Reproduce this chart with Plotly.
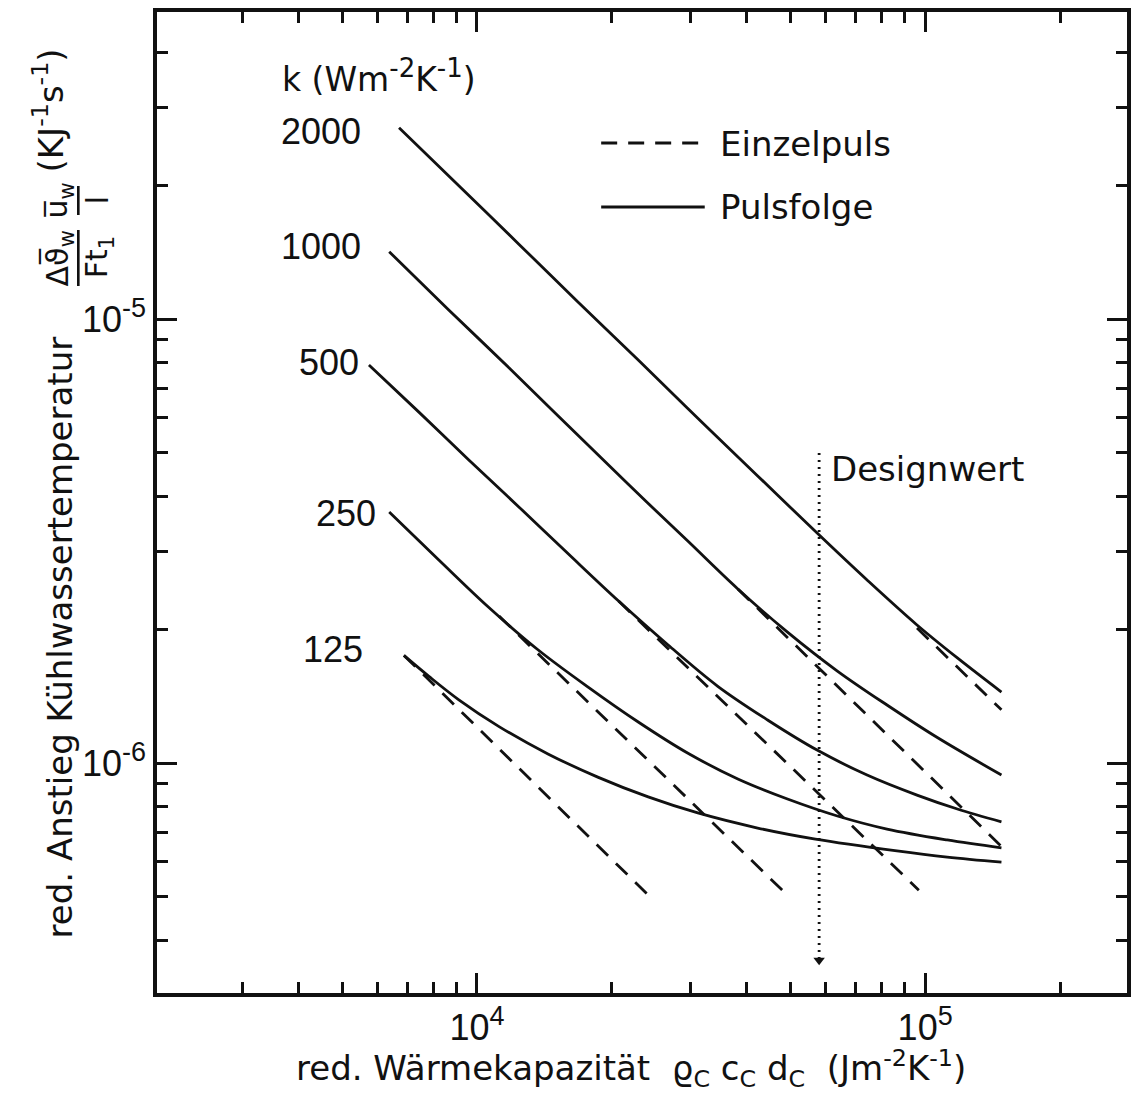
import plotly.graph_objects as go

# ---------------- data ----------------
k_labels = ["2000", "1000", "500", "250", "125"]

# Pulsfolge (solid curves)
x_2000 = [6.70e3, 9.11e3, 1.24e4, 1.68e4, 2.29e4, 3.11e4, 4.23e4, 5.74e4, 7.42e4, 9.59e4, 1.18e5, 1.48e5]
y_2000 = [2.70e-5, 2.00e-5, 1.477e-5, 1.094e-5, 8.10e-6, 5.99e-6, 4.44e-6, 3.30e-6, 2.587e-6, 2.049e-6, 1.727e-6, 1.447e-6]

x_1000 = [6.37e3, 8.65e3, 1.18e4, 1.60e4, 2.17e4, 2.95e4, 3.82e4, 4.93e4, 6.37e4, 8.22e4, 1.06e5, 1.48e5]
y_1000 = [1.42e-5, 1.05e-5, 7.77e-6, 5.75e-6, 4.26e-6, 3.17e-6, 2.47e-6, 1.975e-6, 1.614e-6, 1.353e-6, 1.146e-6, 9.41e-7]

x_500 = [5.74e3, 7.42e3, 9.59e3, 1.24e4, 1.60e4, 2.07e4, 2.67e4, 3.44e4, 4.45e4, 5.74e4, 7.42e4, 9.59e4, 1.18e5, 1.48e5]
y_500 = [7.89e-6, 6.18e-6, 4.82e-6, 3.78e-6, 2.96e-6, 2.32e-6, 1.847e-6, 1.493e-6, 1.252e-6, 1.071e-6, 9.41e-7, 8.48e-7, 7.89e-7, 7.38e-7]

x_250 = [6.37e3, 8.22e3, 1.06e4, 1.37e4, 1.77e4, 2.29e4, 2.95e4, 3.82e4, 4.93e4, 6.37e4, 8.22e4, 1.12e5, 1.48e5]
y_250 = [3.68e-6, 2.87e-6, 2.249e-6, 1.80e-6, 1.485e-6, 1.239e-6, 1.055e-6, 9.22e-7, 8.31e-7, 7.61e-7, 7.11e-7, 6.72e-7, 6.45e-7]

x_125 = [6.87e3, 7.81e3, 9.11e3, 1.12e4, 1.44e4, 1.86e4, 2.41e4, 3.11e4, 4.23e4, 5.69e4, 8.65e4, 1.12e5, 1.48e5]
y_125 = [1.75e-6, 1.57e-6, 1.39e-6, 1.21e-6, 1.05e-6, 9.31e-7, 8.40e-7, 7.73e-7, 7.15e-7, 6.75e-7, 6.35e-7, 6.15e-7, 5.99e-7]

# Einzelpuls (dashed straight lines, visible part: from where it leaves the solid curve to its end)
xd_2000 = [9.59e4, 1.48e5]
yd_2000 = [2.017e-6, 1.32e-6]
xd_1000 = [3.82e4, 1.48e5]
yd_1000 = [2.47e-6, 6.50e-7]
xd_500 = [2.07e4, 9.68e4]
yd_500 = [2.32e-6, 5.18e-7]
xd_250 = [1.12e4, 4.80e4]
yd_250 = [2.147e-6, 5.18e-7]
xd_125 = [6.87e3, 2.41e4]
yd_125 = [1.75e-6, 5.05e-7]

# Designwert marker line
design_x = [5.8e4, 5.8e4]
design_y = [5.0e-6, 3.6e-7]

# ticks
x_major = [1e4, 1e5]
x_major_text = ["10<sup><span style='font-size:27px'>4</span></sup>",
                "10<sup><span style='font-size:27px'>5</span></sup>"]
x_minor = [3e3, 4e3, 5e3, 6e3, 7e3, 8e3, 9e3,
           2e4, 3e4, 4e4, 5e4, 6e4, 7e4, 8e4, 9e4, 2e5]
y_major = [1e-6, 1e-5]
y_major_text = ["10<sup><span style='font-size:27px'>-6</span></sup>",
                "10<sup><span style='font-size:27px'>-5</span></sup>"]
y_minor = [4e-7, 5e-7, 6e-7, 7e-7, 8e-7, 9e-7,
           2e-6, 3e-6, 4e-6, 5e-6, 6e-6, 7e-6, 8e-6, 9e-6,
           2e-5, 3e-5, 4e-5]

# ---------------- figure ----------------
W, H = 1136, 1100
ML, MR, MT, MB = 157, 5, 12, 107
PW, PH = W - ML - MR, H - MT - MB


def PX(x):
    return (x - ML) / PW


def PY(y):
    return (H - MB - y) / PH


FONT = "DejaVu Sans"
NUMFONT = "Liberation Sans, Arial, DejaVu Sans"
BLACK = "#111111"
LW = 2.8
DASH = "16px,11px"

fig = go.Figure()

solid = [(x_2000, y_2000), (x_1000, y_1000), (x_500, y_500), (x_250, y_250), (x_125, y_125)]
dashed = [(xd_2000, yd_2000), (xd_1000, yd_1000), (xd_500, yd_500), (xd_250, yd_250), (xd_125, yd_125)]

for (xs, ys), lab in zip(dashed, k_labels):
    fig.add_trace(go.Scatter(x=xs, y=ys, mode="lines", name="Einzelpuls k=" + lab,
                             line=dict(color=BLACK, width=LW, dash=DASH), showlegend=False))
for (xs, ys), lab in zip(solid, k_labels):
    fig.add_trace(go.Scatter(x=xs, y=ys, mode="lines", name="Pulsfolge k=" + lab,
                             line=dict(color=BLACK, width=LW, shape="spline", smoothing=1.0),
                             showlegend=False))

fig.add_trace(go.Scatter(x=design_x, y=design_y, mode="lines", name="Designwert",
                         line=dict(color=BLACK, width=2.8, dash="2px,5px"), showlegend=False))
fig.add_trace(go.Scatter(x=design_x[1:], y=design_y[1:], mode="markers", showlegend=False,
                         marker=dict(symbol="triangle-down", size=10, color=BLACK)))

axis_common = dict(type="log", showline=True, linecolor=BLACK, linewidth=3.5,
                   mirror="ticks", ticks="inside", ticklen=20, tickwidth=3,
                   tickcolor=BLACK, showgrid=False, zeroline=False,
                   tickfont=dict(family=NUMFONT, size=36, color=BLACK))

fig.update_xaxes(range=[3.286, 5.4504], tickvals=x_major, ticktext=x_major_text,
                 minor=dict(tickvals=x_minor, ticks="inside", ticklen=11, tickwidth=3,
                            tickcolor=BLACK, showgrid=False),
                 **axis_common)
fig.update_yaxes(range=[-6.5173, -4.3078], tickvals=y_major, ticktext=y_major_text,
                 minor=dict(tickvals=y_minor, ticks="inside", ticklen=11, tickwidth=3,
                            tickcolor=BLACK, showgrid=False),
                 **axis_common)

ann = []


def add_text(text, x, y, size=34, family=FONT, xanchor="center", yanchor="middle", angle=0):
    ann.append(dict(text=text, x=PX(x), y=PY(y), xref="paper", yref="paper",
                    showarrow=False, xanchor=xanchor, yanchor=yanchor, textangle=angle,
                    font=dict(family=family, size=size, color=BLACK)))


# curve labels
add_text("k (Wm<sup><span style='font-size:26px'>-2</span></sup>K<sup><span style='font-size:26px'>-1</span></sup>)",
         281, 76, size=33, xanchor="left")
add_text("2000", 364, 131, family=NUMFONT, size=36, xanchor="right")
add_text("1000", 364, 246, family=NUMFONT, size=36, xanchor="right")
add_text("500", 362, 362, family=NUMFONT, size=36, xanchor="right")
add_text("250", 379, 513, family=NUMFONT, size=36, xanchor="right")
add_text("125", 366, 649, family=NUMFONT, size=36, xanchor="right")

# legend
add_text("Einzelpuls", 720, 144, size=34, xanchor="left")
add_text("Pulsfolge", 720, 207, size=34, xanchor="left")

# design value
add_text("Designwert", 832, 469, size=34, xanchor="left")

# x title
add_text("red. Wärmekapazität  ϱ<sub>C</sub> c<sub>C</sub> d<sub>C</sub>  (Jm<sup>-2</sup>K<sup>-1</sup>)",
         633, 1068, size=34)

# y title (rotated)
add_text("red. Anstieg Kühlwassertemperatur", 60, 637, size=34, angle=-90)
add_text("Δϑ̅<sub>w</sub>", 58, 258, size=30, angle=-90)
add_text("Ft<sub>1</sub>", 98, 257, size=30, angle=-90)
add_text("u̅<sub>w</sub>", 58, 200, size=30, angle=-90)
add_text("l", 97, 200, size=30, angle=-90)
add_text("(KJ<sup>-1</sup>s<sup>-1</sup>)", 48, 110, size=34, angle=-90)

shapes = [
    dict(type="line", xref="paper", yref="paper", x0=PX(603), x1=PX(707), y0=PY(143), y1=PY(143),
         line=dict(color=BLACK, width=LW, dash=DASH)),
    dict(type="line", xref="paper", yref="paper", x0=PX(603), x1=PX(707), y0=PY(207), y1=PY(207),
         line=dict(color=BLACK, width=LW)),
    # fraction bars
    dict(type="line", xref="paper", yref="paper", x0=PX(78), x1=PX(78), y0=PY(230), y1=PY(286),
         line=dict(color=BLACK, width=2.6)),
    dict(type="line", xref="paper", yref="paper", x0=PX(78), x1=PX(78), y0=PY(186), y1=PY(215),
         line=dict(color=BLACK, width=2.6)),
]

fig.update_layout(width=W, height=H, margin=dict(l=ML, r=MR, t=MT, b=MB),
                  paper_bgcolor="white", plot_bgcolor="white",
                  annotations=ann, shapes=shapes, showlegend=False,
                  font=dict(family=FONT, color=BLACK))

fig.write_html("out.html")
